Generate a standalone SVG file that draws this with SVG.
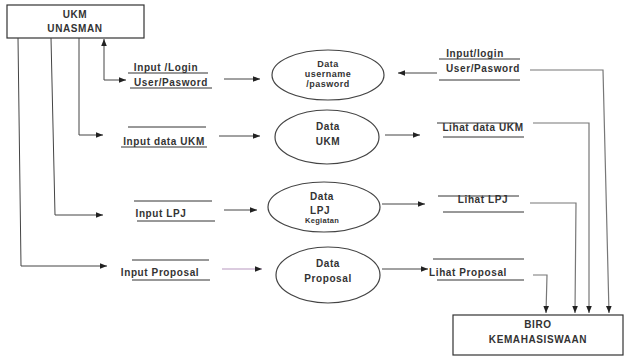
<svg xmlns="http://www.w3.org/2000/svg" width="626" height="356" viewBox="0 0 626 356">
<defs>
<style>
text{font-family:"Liberation Sans",Arial,sans-serif;font-weight:bold;font-size:10px;fill:#333;text-anchor:middle;letter-spacing:0.6px}
.box{fill:#fff;stroke:#333;stroke-width:1.2}
.proc{fill:#fff;stroke:#444;stroke-width:1.2}
.ln{stroke:#333;stroke-width:1;fill:none}
.fl{stroke:#444;stroke-width:1;fill:none;marker-end:url(#ah)}
.fg{stroke:#777;stroke-width:1.2;fill:none;marker-end:url(#ah)}
.fp{stroke:#b898c0;stroke-width:1.2;fill:none;marker-end:url(#ah)}
.sm{font-size:7.5px;letter-spacing:0.3px}
.md{font-size:9px;letter-spacing:0.5px}
</style>
<marker id="ah" viewBox="0 0 10 10" refX="10" refY="5" markerWidth="7" markerHeight="7" markerUnits="userSpaceOnUse" orient="auto">
<path d="M0,1 L10,5 L0,9 z" fill="#222"/>
</marker>
</defs>
<rect width="626" height="356" fill="#fff"/>

<g id="ukm">
<rect class="box" x="7" y="5" width="137" height="33"/>
<text x="75" y="18">UKM</text>
<text x="75" y="32">UNASMAN</text>
</g>

<g id="biro">
<rect class="box" x="453" y="315" width="170" height="40"/>
<text x="538" y="328">BIRO</text>
<text x="538" y="343">KEMAHASISWAAN</text>
</g>

<g id="p-login">
<ellipse class="proc" cx="328" cy="75" rx="56" ry="25"/>
<text class="md" x="328" y="67">Data</text>
<text class="md" x="328" y="77">username</text>
<text class="md" x="328" y="87">/pasword</text>
</g>

<g id="p-ukm">
<ellipse class="proc" cx="327" cy="137" rx="52" ry="27"/>
<text x="328" y="130">Data</text>
<text x="328" y="145">UKM</text>
</g>

<g id="p-lpj">
<ellipse class="proc" cx="324" cy="207" rx="56" ry="25"/>
<text x="322" y="200">Data</text>
<text x="320" y="214">LPJ</text>
<text class="sm" x="322" y="223">Kegiatan</text>
</g>

<g id="p-proposal">
<ellipse class="proc" cx="328" cy="275" rx="52" ry="28"/>
<text x="328" y="267">Data</text>
<text x="328" y="282">Proposal</text>
</g>

<g id="store-in-login">
<line class="ln" x1="128" y1="73" x2="208" y2="73"/>
<text x="166" y="71">Input /Login</text>
<text x="171" y="86">User/Pasword</text>
<line class="ln" x1="130" y1="88" x2="212" y2="88"/>
</g>

<g id="store-in-ukm">
<line class="ln" x1="128" y1="127" x2="206" y2="127"/>
<text x="164" y="145">Input data UKM</text>
<line class="ln" x1="121" y1="147" x2="207" y2="147"/>
</g>

<g id="store-in-lpj">
<line class="ln" x1="134" y1="201" x2="212" y2="201"/>
<text x="161" y="217">Input LPJ</text>
<line class="ln" x1="137" y1="221" x2="215" y2="221"/>
</g>

<g id="store-in-proposal">
<line class="ln" x1="132" y1="260" x2="209" y2="260"/>
<text x="160" y="276">Input Proposal</text>
<line class="ln" x1="132" y1="280" x2="210" y2="280"/>
</g>

<g id="store-out-login">
<text x="475" y="57">Input/login</text>
<line class="ln" x1="439" y1="59" x2="520" y2="59"/>
<text x="483" y="72">User/Pasword</text>
<line class="ln" x1="439" y1="80" x2="520" y2="80"/>
</g>

<g id="store-out-ukm">
<line class="ln" x1="437" y1="123" x2="517" y2="123"/>
<text x="483" y="131">Lihat data UKM</text>
<line class="ln" x1="443" y1="137" x2="524" y2="137"/>
</g>

<g id="store-out-lpj">
<line class="ln" x1="438" y1="196" x2="519" y2="196"/>
<text x="483" y="203">Lihat LPJ</text>
<line class="ln" x1="443" y1="212" x2="524" y2="212"/>
</g>

<g id="store-out-proposal">
<line class="ln" x1="433" y1="259" x2="524" y2="259"/>
<text x="468" y="276">Lihat Proposal</text>
<line class="ln" x1="437" y1="280" x2="524" y2="280"/>
</g>

<g id="connectors">
<polyline class="fl" points="104,80 104,39"/>
<polyline class="fl" points="104,80 126,80"/>
<polyline class="fl" points="79,38 79,135 103,135"/>
<polyline class="fl" points="51,38 55,215 103,215"/>
<polyline class="fl" points="18,38 21,266 107,266"/>
<line class="fl" x1="224" y1="79" x2="260" y2="79"/>
<line class="fl" x1="219" y1="136" x2="260" y2="136"/>
<line class="fl" x1="224" y1="210" x2="257" y2="210"/>
<line class="fp" x1="222" y1="269" x2="262" y2="269"/>
<line class="fl" x1="437" y1="73" x2="398" y2="73"/>
<line class="fl" x1="385" y1="135" x2="420" y2="135"/>
<line class="fl" x1="382" y1="204" x2="425" y2="204"/>
<line class="fl" x1="382" y1="269" x2="428" y2="269"/>
<polyline class="fg" points="530,70 603,70 609,313"/>
<polyline class="fg" points="533,123 589,123 589,313"/>
<polyline class="fg" points="530,203 576,203 575,313"/>
<polyline class="fg" points="533,275 547,275 546,313"/>
</g>
</svg>
